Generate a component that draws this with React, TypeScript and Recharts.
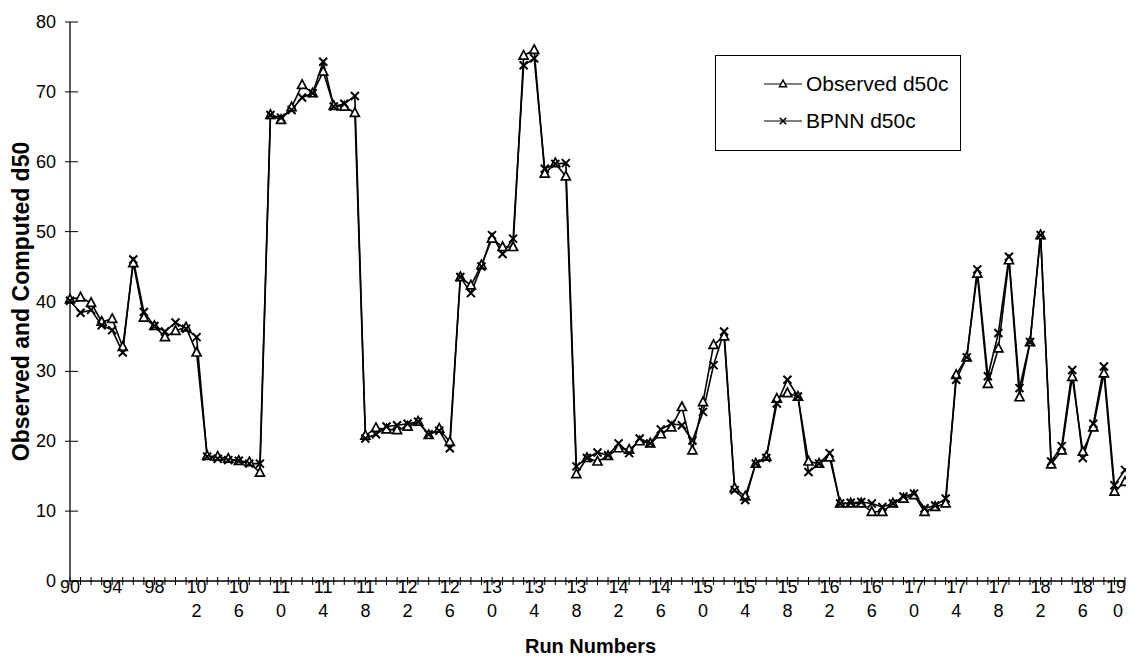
import React from "react";
import { LineChart, Line, XAxis, YAxis, Legend, Label } from "recharts";

// run numbers 90 .. 190
const runs: number[] = Array.from({ length: 101 }, (_, i) => 90 + i);

const observed = [
  40.3, 40.6, 39.8, 37.1, 37.5, 33.5, 45.5, 37.7, 36.5, 34.9,
  35.8, 36.3, 32.7, 17.9, 17.8, 17.5, 17.2, 17.0, 15.5, 66.7,
  66.0, 67.8, 71.0, 69.8, 72.9, 68.0, 67.9, 67.0, 20.8, 21.9,
  21.7, 21.6, 22.1, 22.8, 20.9, 21.8, 19.9, 43.5, 42.3, 45.2,
  49.0, 47.8, 47.8, 75.2, 76.0, 58.3, 59.8, 57.9, 15.3, 17.6,
  17.1, 17.9, 19.0, 18.8, 20.0, 19.7, 21.0, 22.0, 24.9, 18.7,
  25.6, 33.8, 35.0, 13.3, 12.1, 16.8, 17.8, 26.1, 26.9, 26.4,
  17.1, 16.8, 17.7, 11.1, 11.1, 11.1, 9.9, 9.9, 11.1, 11.8,
  12.3, 9.9, 10.6, 11.1, 29.5, 32.0, 44.0, 28.2, 33.3, 45.9,
  26.3, 34.2, 49.5, 16.7, 18.7, 29.2, 18.5, 22.0, 29.7, 12.8,
  14.2,
];

const bpnn = [
  40.1, 38.4, 38.8, 36.6, 35.9, 32.7, 46.0, 38.5, 36.5, 35.7,
  37.0, 36.1, 34.9, 17.8, 17.5, 17.3, 17.2, 16.8, 16.8, 66.7,
  66.3, 67.4, 69.2, 69.8, 74.3, 67.9, 68.3, 69.4, 20.4, 21.0,
  22.1, 22.3, 22.5, 22.8, 21.0, 21.5, 19.0, 43.5, 41.2, 45.0,
  49.5, 46.8, 49.0, 73.8, 74.8, 59.0, 59.7, 59.8, 16.4, 17.6,
  18.4, 18.0, 19.7, 18.3, 20.4, 19.7, 21.7, 22.5, 22.3, 20.1,
  24.2, 30.9, 35.7, 13.0, 11.6, 16.8, 17.6, 25.4, 28.8, 26.4,
  15.6, 16.8, 18.3, 11.1, 11.2, 11.3, 11.1, 10.6, 11.1, 12.1,
  12.5, 10.4, 10.8, 11.8, 28.8, 32.0, 44.6, 29.3, 35.5, 46.4,
  27.6, 34.2, 49.5, 17.1, 19.3, 30.2, 17.6, 22.5, 30.7, 13.7,
  15.9,
];

const yTicks = [0, 10, 20, 30, 40, 50, 60, 70, 80];

const data = runs.map((run, i) => ({
  run,
  observed: observed[i],
  bpnn: bpnn[i],
}));

const FONT = "Arial, 'Liberation Sans', sans-serif";
const LAST_RUN = runs[runs.length - 1];

const triPath = (cx: number, cy: number, s = 1) =>
  `M${cx},${cy - 5 * s} L${cx + 4.5 * s},${cy + 3.5 * s} L${cx - 4.5 * s},${cy + 3.5 * s} Z`;
const crossPath = (cx: number, cy: number, s = 1) =>
  `M${cx - 4 * s},${cy - 4 * s} L${cx + 4 * s},${cy + 4 * s} M${cx + 4 * s},${cy - 4 * s} L${cx - 4 * s},${cy + 4 * s}`;

const TriangleDot = (props: any) => {
  const { cx, cy, index } = props;
  if (cx == null || cy == null) return <g key={`t${index}`} />;
  return (
    <path key={`t${index}`} d={triPath(cx, cy)} fill="#fff" stroke="#000" strokeWidth={1.7} />
  );
};

const CrossDot = (props: any) => {
  const { cx, cy, index } = props;
  if (cx == null || cy == null) return <g key={`x${index}`} />;
  return <path key={`x${index}`} d={crossPath(cx, cy)} fill="none" stroke="#000" strokeWidth={2} />;
};

const XTick = (props: any) => {
  const { x, y, payload } = props;
  const run = Number(payload.value);
  const s = String(run);
  const show = (run - 90) % 4 === 0;
  const isLast = run === LAST_RUN;
  const top = s.length > 2 ? s.slice(0, 2) : s;
  return (
    <g>
      <line x1={x} x2={x} y1={y - 4} y2={y + 4} stroke="#000" strokeWidth={1} />
      {show && (
        <text
          x={isLast ? x + 1 : x}
          y={y + 12}
          textAnchor={isLast ? "end" : "middle"}
          fontSize={18}
          fontFamily={FONT}
          fill="#000"
        >
          {top}
        </text>
      )}
      {show && s.length > 2 && (
        <text x={isLast ? x - 7 : x} y={y + 36} textAnchor="middle" fontSize={18} fontFamily={FONT} fill="#000">
          {s.slice(2)}
        </text>
      )}
    </g>
  );
};

const YTick = (props: any) => {
  const { x, y, payload } = props;
  return (
    <g>
      <line x1={x - 5} x2={x + 8} y1={y} y2={y} stroke="#000" strokeWidth={1} />
      <text x={x - 14} y={y + 6} textAnchor="end" fontSize={18} fontFamily={FONT} fill="#000">
        {payload.value}
      </text>
    </g>
  );
};

const legendItems = [
  { name: "Observed d50c", marker: "tri" },
  { name: "BPNN d50c", marker: "cross" },
];

const LegendBox = () => (
  <div
    style={{
      position: "relative",
      width: 246,
      height: 96,
      border: "1.5px solid #000",
      boxSizing: "border-box",
      background: "#fff",
      fontFamily: FONT,
      fontSize: 21,
      color: "#000",
    }}
  >
    {legendItems.map((item, i) => (
      <div
        key={item.name}
        style={{
          position: "absolute",
          left: 47,
          top: 16 + i * 37,
          height: 24,
          display: "flex",
          alignItems: "center",
          whiteSpace: "nowrap",
        }}
      >
        <svg width={40} height={16} style={{ marginRight: 3 }}>
          <line x1={1} x2={39} y1={8} y2={8} stroke="#000" strokeWidth={1.2} />
          {item.marker === "tri" ? (
            <path d={triPath(20, 8, 0.8)} fill="#fff" stroke="#000" strokeWidth={1.4} />
          ) : (
            <path d={crossPath(20, 8, 0.8)} fill="none" stroke="#000" strokeWidth={1.6} />
          )}
        </svg>
        <span style={{ lineHeight: "24px" }}>{item.name}</span>
      </div>
    ))}
  </div>
);

export default function App() {
  return (
    <div style={{ width: 1118, height: 648, fontFamily: FONT }}>
      <LineChart
        width={1118}
        height={648}
        data={data}
        margin={{ top: 14, right: 1, left: 0, bottom: 0 }}
      >
        <XAxis
          dataKey="run"
          type="category"
          interval={0}
          height={75}
          tickLine={false}
          tickSize={0}
          tickMargin={0}
          axisLine={{ stroke: "#000", strokeWidth: 1.3 }}
          tick={<XTick />}
        >
          <Label
            content={(p: any) => {
              const vb = p.viewBox || {};
              return (
                <text
                  x={vb.x + vb.width / 2 - 7}
                  y={645}
                  textAnchor="middle"
                  fontSize={20}
                  fontWeight="bold"
                  fontFamily={FONT}
                  fill="#000"
                >
                  Run Numbers
                </text>
              );
            }}
          />
        </XAxis>
        <YAxis
          type="number"
          domain={[0, 80]}
          ticks={yTicks}
          width={62}
          tickLine={false}
          tickSize={0}
          tickMargin={0}
          axisLine={{ stroke: "#000", strokeWidth: 1.3 }}
          tick={<YTick />}
        >
          <Label
            content={(p: any) => {
              const vb = p.viewBox || {};
              const cy = vb.y + vb.height / 2;
              return (
                <text
                  x={13}
                  y={cy}
                  transform={`rotate(-90 13 ${cy})`}
                  textAnchor="middle"
                  dominantBaseline="central"
                  fontSize={23}
                  fontWeight="bold"
                  fontFamily={FONT}
                  fill="#000"
                >
                  Observed and Computed d50
                </text>
              );
            }}
          />
        </YAxis>
        <Legend
          layout="vertical"
          align="center"
          verticalAlign="middle"
          content={() => <LegendBox />}
          wrapperStyle={{ position: "absolute", left: 707, top: 47, width: 246, height: 96 }}
        />
        <Line
          type="linear"
          dataKey="observed"
          stroke="#000"
          strokeWidth={1.6}
          dot={TriangleDot}
          activeDot={false}
          isAnimationActive={false}
        />
        <Line
          type="linear"
          dataKey="bpnn"
          stroke="#000"
          strokeWidth={1.6}
          dot={CrossDot}
          activeDot={false}
          isAnimationActive={false}
        />
      </LineChart>
    </div>
  );
}
